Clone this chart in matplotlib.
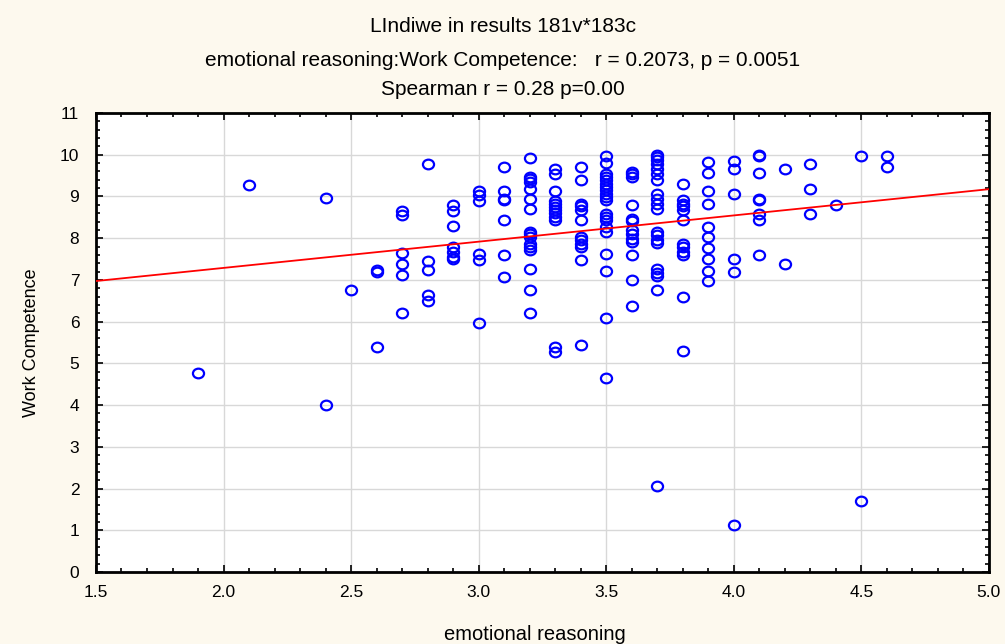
import matplotlib.pyplot as plt
from matplotlib.ticker import MultipleLocator
from matplotlib.path import Path
import numpy as np

plt.rcParams['font.family'] = ['Liberation Sans', 'DejaVu Sans']

# emotional reasoning score -> work competence values read per column
columns = {
	1.9: [4.78],
	2.1: [9.27],
	2.4: [8.96, 4.0],
	2.5: [6.76],
	2.6: [7.24, 7.2, 5.39],
	2.7: [8.65, 8.56, 7.64, 7.38, 7.12, 6.2],
	2.8: [9.79, 7.46, 7.24, 6.64, 6.5],
	2.9: [8.8, 8.65, 8.3, 7.8, 7.68, 7.56, 7.5],
	3.0: [9.14, 9.03, 8.9, 7.61, 7.48, 5.97],
	3.1: [9.71, 9.14, 8.95, 8.91, 8.43, 7.6, 7.08],
	3.2: [9.92, 9.47, 9.41, 9.35, 9.18, 8.95, 8.69, 8.15, 8.09, 8.02,
	      7.87, 7.8, 7.72, 7.25, 6.76, 6.2],
	3.3: [9.67, 9.55, 9.14, 8.9, 8.82, 8.75, 8.67, 8.6, 8.52, 8.43, 5.4, 5.27],
	3.4: [9.71, 9.39, 8.83, 8.76, 8.67, 8.43, 8.02, 7.96, 7.87, 7.78, 7.48, 5.45],
	3.5: [9.98, 9.8, 9.55, 9.47, 9.39, 9.31, 9.23, 9.15, 9.07, 8.99, 8.91,
	      8.58, 8.51, 8.43, 8.27, 8.15, 7.63, 7.21, 6.08, 4.65],
	3.6: [9.59, 9.53, 9.46, 8.79, 8.45, 8.41, 8.2, 8.11, 7.98, 7.91, 7.6, 7.0, 6.38],
	3.7: [10.0, 9.95, 9.87, 9.78, 9.65, 9.55, 9.39, 9.07, 8.95, 8.83, 8.71,
	      8.15, 8.08, 7.96, 7.88, 7.27, 7.17, 7.09, 6.76, 2.05],
	3.8: [9.31, 8.91, 8.83, 8.76, 8.67, 8.43, 7.87, 7.78, 7.68, 7.6, 6.58, 5.3],
	3.9: [9.83, 9.57, 9.14, 8.83, 8.26, 8.04, 7.77, 7.51, 7.21, 6.98],
	4.0: [9.86, 9.66, 9.06, 7.51, 7.2, 1.12],
	4.1: [9.99, 9.97, 9.57, 8.95, 8.91, 8.58, 8.43, 7.6],
	4.2: [9.66, 7.37],
	4.3: [9.79, 9.18, 8.57],
	4.4: [8.79],
	4.5: [9.97, 1.7],
	4.6: [9.97, 9.71],
}
x_vals = np.array([k for k, v in columns.items() for _ in v])
y_vals = np.array([y for v in columns.values() for y in v])

# fitted line as printed by the stats package
fit_intercept = 6.03
fit_slope = 0.629

title_lines = [
	"LIndiwe in results 181v*183c",
	"emotional reasoning:Work Competence:   r = 0.2073, p = 0.0051",
	"Spearman r = 0.28 p=0.00",
]

# slightly wide open circle, as the original marker
circ = Path.unit_circle()
oval = Path(circ.vertices * np.array([1.15, 1.0]), circ.codes)

bg = '#fdf9ee'
fig = plt.figure(figsize=(10.05, 6.44), dpi=100, facecolor=bg)
ax = fig.add_axes([0.0955, 0.1118, 0.8885, 0.7127])
ax.set_facecolor('white')

ax.plot(x_vals, y_vals, linestyle='none', marker=oval, markersize=8.0,
		markerfacecolor='none', markeredgecolor='#0000ff', markeredgewidth=1.6,
		zorder=3)

xs = np.array([1.5, 5.0])
ax.plot(xs, fit_intercept + fit_slope * xs, color='#ff0000', lw=1.3, zorder=4)

ax.set_xlim(1.5, 5.0)
ax.set_ylim(0, 11)
ax.xaxis.set_major_locator(MultipleLocator(0.5))
ax.xaxis.set_minor_locator(MultipleLocator(0.1))
ax.yaxis.set_major_locator(MultipleLocator(1))
ax.yaxis.set_minor_locator(MultipleLocator(0.2))
ax.xaxis.set_major_formatter(plt.FuncFormatter(lambda v, p: f"{v:.1f}"))
ax.grid(True, which='major', color='#d8d8d8', lw=1.0, zorder=0)
ax.set_axisbelow(True)

ax.tick_params(which='both', direction='in', top=True, right=True,
			   labelsize=12.5, width=1.2)
ax.tick_params(which='major', length=5)
ax.tick_params(axis='x', which='major', pad=9)
ax.tick_params(axis='y', which='major', pad=12)
ax.tick_params(which='minor', length=3)
for s in ax.spines.values():
	s.set_linewidth(2.0)

ax.set_xlabel("emotional reasoning", fontsize=14.5, labelpad=16)
ax.xaxis.set_label_coords(0.492, -0.115)
ax.set_ylabel("Work Competence", fontsize=13, labelpad=14)

title_y = [0.9596, 0.9068, 0.8618]
for line, y in zip(title_lines, title_y):
	fig.text(0.5, y, line, ha='center', va='center', fontsize=15)

fig.savefig('out.png', dpi=100, facecolor=bg)
